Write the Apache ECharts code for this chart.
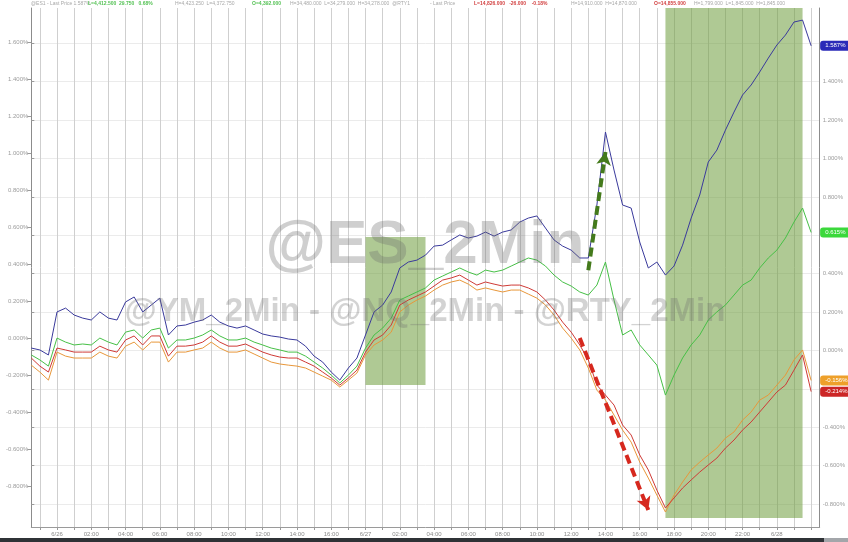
<!DOCTYPE html>
<html><head><meta charset="utf-8">
<script src="https://cdn.jsdelivr.net/npm/echarts@6/dist/echarts.min.js"></script>
<style>html,body{margin:0;padding:0;background:#fff}#c{width:848px;height:542px}</style>
</head><body><div id="c"></div>
<script>
// ---- data (percent change) ----
const tickLabels = ['6/26','02:00','04:00','06:00','08:00','10:00','12:00','14:00','16:00','6/27','02:00','04:00','06:00','08:00','10:00','12:00','14:00','16:00','18:00','20:00','22:00','6/28'];
const categories = Array.from({length: 93}, (_, i) => 'p' + i);

const esBlue = [0.013,0.003,-0.023,0.201,0.221,0.185,0.169,0.159,0.201,0.169,
0.159,0.253,0.279,0.201,0.237,0.273,0.081,0.128,0.133,0.148,
0.159,0.185,0.148,0.128,0.117,0.128,0.107,0.086,0.076,0.070,
0.060,0.055,0.023,-0.029,-0.060,-0.112,-0.154,-0.091,-0.039,0.081,
0.201,0.237,0.305,0.430,0.461,0.471,0.497,0.544,0.549,0.576,
0.602,0.586,0.596,0.617,0.596,0.617,0.628,0.669,0.690,0.701,
0.638,0.576,0.544,0.523,0.482,0.482,0.758,1.138,0.940,0.758,
0.742,0.565,0.430,0.461,0.393,0.440,0.549,0.690,0.810,0.982,
1.044,1.148,1.242,1.331,1.383,1.451,1.523,1.591,1.643,1.711,
1.721,1.587];

const ymGreen = [-0.023,-0.049,-0.081,0.065,0.044,0.029,0.034,0.029,0.065,0.044,
0.029,0.096,0.107,0.065,0.107,0.117,0.013,0.055,0.055,0.065,
0.081,0.107,0.076,0.055,0.055,0.065,0.044,0.029,0.013,0.003,
-0.008,-0.008,-0.029,-0.060,-0.091,-0.128,-0.169,-0.128,-0.081,0.013,
0.081,0.117,0.169,0.263,0.284,0.305,0.326,0.367,0.388,0.409,
0.430,0.409,0.393,0.419,0.409,0.419,0.440,0.461,0.482,0.471,
0.440,0.393,0.357,0.336,0.305,0.289,0.341,0.461,0.263,0.081,
0.107,0.029,-0.023,-0.076,-0.232,-0.128,-0.039,0.029,0.081,0.159,
0.201,0.237,0.289,0.341,0.367,0.430,0.482,0.523,0.586,0.669,
0.742,0.615];

const rtyRed = [-0.039,-0.081,-0.112,0.013,0.003,-0.008,-0.008,-0.008,0.023,0.003,
-0.008,0.055,0.076,0.029,0.076,0.076,-0.029,0.023,0.023,0.029,
0.044,0.076,0.044,0.023,0.023,0.034,0.013,-0.008,-0.023,-0.034,
-0.039,-0.039,-0.060,-0.081,-0.112,-0.143,-0.180,-0.143,-0.102,-0.008,
0.055,0.081,0.133,0.237,0.263,0.284,0.305,0.336,0.367,0.378,
0.393,0.367,0.341,0.357,0.346,0.336,0.341,0.341,0.326,0.305,
0.263,0.211,0.148,0.096,0.029,-0.049,-0.180,-0.232,-0.284,-0.388,
-0.440,-0.544,-0.622,-0.727,-0.820,-0.768,-0.716,-0.674,-0.633,-0.596,
-0.560,-0.508,-0.466,-0.414,-0.372,-0.320,-0.268,-0.216,-0.180,-0.102,
-0.023,-0.214];

const nqOrange = [-0.076,-0.112,-0.154,-0.008,-0.029,-0.039,-0.039,-0.039,-0.008,-0.029,
-0.039,0.023,0.044,0.003,0.044,0.044,-0.060,-0.008,-0.008,0.003,
0.013,0.044,0.013,-0.008,-0.008,0.003,-0.018,-0.039,-0.060,-0.070,
-0.076,-0.081,-0.091,-0.112,-0.133,-0.154,-0.190,-0.154,-0.117,-0.023,
0.029,0.055,0.096,0.201,0.237,0.263,0.284,0.315,0.341,0.357,
0.367,0.346,0.315,0.326,0.315,0.305,0.315,0.315,0.294,0.273,
0.237,0.185,0.117,0.065,0.003,-0.091,-0.206,-0.258,-0.336,-0.414,
-0.477,-0.581,-0.664,-0.753,-0.841,-0.753,-0.685,-0.622,-0.581,-0.544,
-0.508,-0.456,-0.424,-0.362,-0.320,-0.258,-0.232,-0.180,-0.128,-0.049,
0.003,-0.156];

// shaded sessions: [startIndex, endIndex, top, bottom]
const bands = [[39, 46, 0.591, -0.180], [74, 90, 1.784, -0.872]];
// arrows: [x0, y0, x1, y1, color]
const arrows = [[65, 0.418, 67, 1.034, '#447a1c'], [64, 0.065, 72, -0.831, '#d6281e']];

const FONT = '"Liberation Sans", Arial, sans-serif';
const fmtPct = v => v.toFixed(3) + '%';

function endLabel(bg) {
  return { show: true, formatter: p => fmtPct(p.value), backgroundColor: bg, color: '#fff',
    fontSize: 6, fontFamily: FONT, padding: [2, 5], borderRadius: 3, distance: 9 };
}
function line(name, data, color, badge, extra) {
  return Object.assign({ name, type: 'line', data, xAxisIndex: 0, yAxisIndex: 0, showSymbol: false,
    symbol: 'none', lineStyle: { color, width: 1 }, itemStyle: { color }, endLabel: endLabel(badge) }, extra || {});
}

const chart = echarts.init(document.getElementById('c'), null, { renderer: 'canvas' });
chart.setOption({
  animation: false,
  backgroundColor: '#ffffff',
  textStyle: { fontFamily: FONT },
  grid: [
    { left: 31.3, right: 28.3, top: 8, bottom: 15 },
    { left: 31.3, right: 28.3, top: 43.3, bottom: 37.9 },
    { left: 31.3, right: 28.3, top: 42, bottom: 56 }
  ],
  xAxis: [
    { type: 'category', gridIndex: 0, data: categories, boundaryGap: false,
      axisLine: { onZero: false, lineStyle: { color: '#9a9a9a' } },
      axisTick: { show: true, length: 3, interval: (i) => i % 2 === 1, lineStyle: { color: '#9a9a9a' } },
      axisLabel: { interval: (i) => i % 4 === 3, fontSize: 6, color: '#8a8a8a', margin: 4,
        formatter: (v, i) => tickLabels[(i - 3) / 4] || '' },
      splitLine: { show: true, interval: (i) => i % 2 === 1, lineStyle: { color: '#cfcfcf', width: 1 } } },
    { type: 'value', gridIndex: 1, show: false, min: 0, max: 1 },
    { type: 'value', gridIndex: 2, show: false, min: 0, max: 1 }
  ],
  yAxis: [
    { type: 'value', gridIndex: 0, min: -0.919, max: 1.784, position: 'left',
      axisLine: { show: true, onZero: false, lineStyle: { color: '#8c8c8c' } }, axisTick: { show: false },
      axisLabel: { show: false }, splitLine: { show: false } },
    { type: 'value', gridIndex: 0, min: -0.919, max: 1.784, position: 'right',
      axisLine: { show: true, onZero: false, lineStyle: { color: '#8c8c8c' } }, axisTick: { show: false },
      axisLabel: { show: false }, splitLine: { show: false } },
    { type: 'value', gridIndex: 1, min: -0.8, max: 1.6, interval: 0.2, position: 'right',
      axisLine: { show: false }, axisTick: { show: true, length: 3, lineStyle: { color: '#9a9a9a' } },
      axisLabel: { fontSize: 6, color: '#9c9c9c', margin: 3, formatter: v => fmtPct(v) },
      splitLine: { show: true, lineStyle: { color: '#ebebeb' } } },
    { type: 'value', gridIndex: 2, min: -0.8, max: 1.6, interval: 0.2, position: 'left',
      axisLine: { show: false }, axisTick: { show: true, length: 4, lineStyle: { color: '#9a9a9a' } },
      axisLabel: { fontSize: 6, color: '#9c9c9c', margin: 3, formatter: v => fmtPct(v) },
      splitLine: { show: false } }
  ],
  series: [
    line('NQ', nqOrange, '#e8973a', '#eea02a', {
      markArea: { silent: true, itemStyle: { color: 'rgba(112,158,64,0.56)' },
        data: bands.map(b => [{ coord: [b[0], b[2]] }, { coord: [b[1], b[3]] }]) }
    }),
    line('RTY', rtyRed, '#cf3a36', '#cc2626'),
    line('YM', ymGreen, '#46c046', '#3bd83b'),
    line('ES', esBlue, '#3a3a9c', '#2a2ab8', {
      markLine: { silent: true, symbol: ['none', 'arrow'], symbolSize: [11, 13], label: { show: false },
        data: arrows.map(a => [
          { coord: [a[0], a[1]], lineStyle: { color: a[4], width: 4, type: [9, 5] }, itemStyle: { color: a[4] } },
          { coord: [a[2], a[3]] }
        ]) }
    })
  ],
  graphic: [
    { type: 'text', x: 425, y: 246, z: 100, silent: true,
      style: { text: '@ES_2Min', font: 'bold 62px ' + FONT, fill: 'rgba(110,110,110,0.33)', align: 'center', verticalAlign: 'middle' } },
    { type: 'text', x: 425, y: 312, z: 100, silent: true,
      style: { text: '@YM_2Min - @NQ_2Min - @RTY_2Min', font: 'bold 33px ' + FONT, fill: 'rgba(110,110,110,0.3)', align: 'center', verticalAlign: 'middle' } },
    { type: 'rect', z: 100, shape: { x: 0, y: 538, width: 824, height: 4 }, style: { fill: '#2f3236' } },
    { type: 'rect', z: 100, shape: { x: 824, y: 538, width: 24, height: 4 }, style: { fill: '#a3a6aa' } },
    { type: 'text', x: 31, y: 1, style: { text: '@ES1 - Last Price 1.587%', font: '5px ' + FONT, fill: '#a8a8a8' } },
    { type: 'text', x: 88, y: 1, style: { text: 'L=4,412.500  29.750   0.68%', font: 'bold 5px ' + FONT, fill: '#55c255' } },
    { type: 'text', x: 175, y: 1, style: { text: 'H=4,423.250  L=4,372.750', font: '5px ' + FONT, fill: '#a8a8a8' } },
    { type: 'text', x: 252, y: 1, style: { text: 'O=4,392.000', font: 'bold 5px ' + FONT, fill: '#55c255' } },
    { type: 'text', x: 290, y: 1, style: { text: 'H=34,480.000  L=34,279.000  H=34,278.000  @RTY1', font: '5px ' + FONT, fill: '#a8a8a8' } },
    { type: 'text', x: 430, y: 1, style: { text: '- Last Price', font: '5px ' + FONT, fill: '#a8a8a8' } },
    { type: 'text', x: 474, y: 1, style: { text: 'L=14,826.000   -26.000    -0.18%', font: 'bold 5px ' + FONT, fill: '#d24040' } },
    { type: 'text', x: 571, y: 1, style: { text: 'H=14,910.000  H=14,870.000', font: '5px ' + FONT, fill: '#a8a8a8' } },
    { type: 'text', x: 654, y: 1, style: { text: 'O=14,855.000', font: 'bold 5px ' + FONT, fill: '#d24040' } },
    { type: 'text', x: 694, y: 1, style: { text: 'H=1,799.000  L=1,845.000  H=1,845.000', font: '5px ' + FONT, fill: '#a8a8a8' } }
  ]
});
</script></body></html>
